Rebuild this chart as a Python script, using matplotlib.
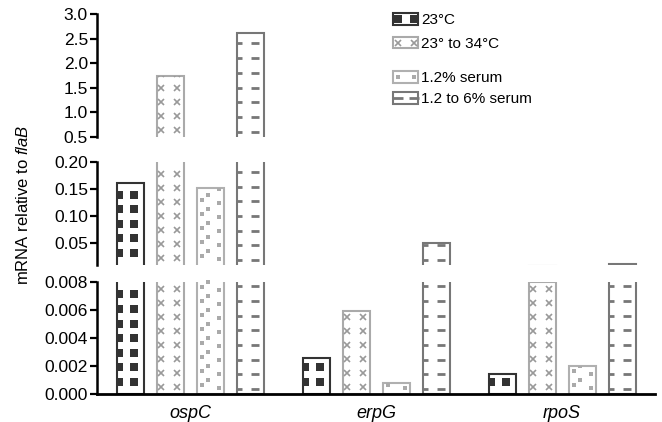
import numpy as np
import matplotlib
matplotlib.use('Agg')
import matplotlib.pyplot as plt
from matplotlib.patches import Rectangle, Patch
from matplotlib.lines import Line2D
from matplotlib.legend_handler import HandlerBase
from matplotlib.transforms import blended_transform_factory

plt.rcParams['font.family'] = ['Liberation Sans', 'DejaVu Sans']
plt.rcParams['mathtext.fontset'] = 'custom'
plt.rcParams['mathtext.rm'] = 'Liberation Sans'
plt.rcParams['mathtext.it'] = 'Liberation Sans:italic'

# data
genes = ['ospC', 'erpG', 'rpoS']
conditions = ['23°C', '23° to 34°C', '1.2% serum', '1.2 to 6% serum']
vals_23 = [0.16, 0.00259, 0.0014]
vals_23_34 = [1.74, 0.0059, 0.00795]
vals_serum12 = [0.151, 0.00076, 0.00202]
vals_serum6 = [2.61, 0.0494, 0.011]
series = [vals_23, vals_23_34, vals_serum12, vals_serum6]

# bar styles (edge colour, fill pattern)
styles = [
    dict(edge='#333333', marker='s', mcolor='#333333', msize=5.4, mew=0, cols=[0.1, 0.64], phase=[0, 0], step=14.6, start=12),
    dict(edge='#aaaaaa', marker='x', mcolor='#999999', msize=4.5, mew=1.2, cols=[0.16, 0.76], phase=[0, 0], step=14.0, start=7),
    dict(edge='#b0b0b0', marker='s', mcolor='#aaaaaa', msize=2.5, mew=0, cols=[0.2, 0.42, 0.82], phase=[0, 0.35, -0.2], step=14.0, start=9),
    dict(edge='#777777', marker='_', mcolor='#777777', msize=6.0, mew=2.0, cols=[0.06, 0.7], phase=[0, 0], step=14.7, start=5),
]

fig = plt.figure(figsize=(6.62, 4.22), dpi=100)
fig.set_facecolor('white')
W, H = 662, 422

def px_axes(top, bottom):
    return fig.add_axes([97 / W, (H - bottom) / H, 558 / W, (bottom - top) / H])

ax_top = px_axes(14, 136.7)
ax_mid = px_axes(161.7, 265)
ax_bot = px_axes(281.7, 394)

ax_top.set_ylim(0.5, 3.0)
ax_mid.set_ylim(0.0092, 0.20)
ax_bot.set_ylim(0.0, 0.008)

ax_top.set_yticks(np.arange(0.5, 3.01, 0.5))
ax_mid.set_yticks([0.05, 0.10, 0.15, 0.20])
ax_bot.set_yticks(np.arange(0, 0.0081, 0.002))
ax_top.yaxis.set_major_formatter('{x:.1f}')
ax_mid.yaxis.set_major_formatter('{x:.2f}')
ax_bot.yaxis.set_major_formatter('{x:.3f}')

x = np.arange(len(genes))
bar_w = 27 / 186
step_x = 40 / 186
offsets = [(i - 1.5) * step_x for i in range(4)]


def fill_pattern(ax, bar, st):
    x0 = bar.get_x()
    w = bar.get_width()
    h_px = ax.get_position().height * H
    step = st['step'] / h_px
    trans = blended_transform_factory(ax.transData, ax.transAxes)
    for col, ph in zip(st['cols'], st['phase']):
        ys = np.arange(st['start'] / h_px + ph * step, 1.0, step)
        ln, = ax.plot(np.full(len(ys), x0 + col * w), ys, transform=trans, linestyle='none',
                      marker=st['marker'], color=st['mcolor'], markersize=st['msize'],
                      markeredgewidth=st['mew'], zorder=3)
        ln.set_clip_path(bar)


for ax in [ax_top, ax_mid, ax_bot]:
    ax.set_xlim(-0.5, 2.5)
    for i, vals in enumerate(series):
        st = styles[i]
        bars = ax.bar(x + offsets[i], vals, bar_w, facecolor='white', edgecolor=st['edge'],
                      linewidth=1.5, zorder=2)
        for b in bars:
            fill_pattern(ax, b, st)
    for s in ['top', 'right', 'bottom']:
        ax.spines[s].set_visible(False)
    ax.spines['left'].set_linewidth(1.8)
    ax.tick_params(axis='y', length=5, width=1.6, pad=1.5, labelsize=12.5, direction='out')
    ax.set_xticks([])

ax_bot.spines['bottom'].set_visible(True)
ax_bot.spines['bottom'].set_linewidth(2.0)
ax_bot.set_xticks(x)
ax_bot.set_xticklabels(genes, fontstyle='italic', fontsize=13)
ax_bot.tick_params(axis='x', length=0, pad=8)

fig.text(23 / W, (H - 205) / H, 'mRNA relative to $\\mathit{flaB}$', rotation=90,
         ha='center', va='center', fontsize=12)


class PatternHandler(HandlerBase):
    def __init__(self, st):
        super().__init__()
        self.st = st

    def create_artists(self, legend, orig_handle, xdescent, ydescent, width, height, fontsize, trans):
        st = self.st
        rect = Rectangle((-xdescent, -ydescent), width, height, facecolor='white',
                         edgecolor=st['edge'], linewidth=1.5, transform=trans)
        xs = [-xdescent + width * f for f in (0.18, 0.82)]
        ys = [-ydescent + height / 2] * 2
        mk = Line2D(xs, ys, linestyle='none', marker=st['marker'], color=st['mcolor'],
                    markersize=st['msize'] * 1.1, markeredgewidth=st['mew'], transform=trans)
        return [rect, mk]


handles = [Patch(label=c) for c in conditions]
hmap = {h: PatternHandler(styles[i]) for i, h in enumerate(handles)}

leg1 = ax_top.legend(handles[:2], conditions[:2], handler_map=hmap, loc='upper left',
                     bbox_to_anchor=(393 / W, (H - 13) / H), bbox_transform=fig.transFigure,
                     frameon=False, fontsize=11, handlelength=1.65, handleheight=0.8,
                     handletextpad=0.2, labelspacing=0.63, borderpad=0, borderaxespad=0)
ax_top.add_artist(leg1)
ax_top.legend(handles[2:], conditions[2:], handler_map=hmap, loc='upper left',
              bbox_to_anchor=(393 / W, (H - 71) / H), bbox_transform=fig.transFigure,
              frameon=False, fontsize=11, handlelength=1.65, handleheight=0.8,
              handletextpad=0.2, labelspacing=0.44, borderpad=0, borderaxespad=0)

fig.savefig('out.png', dpi=100, facecolor='white')
